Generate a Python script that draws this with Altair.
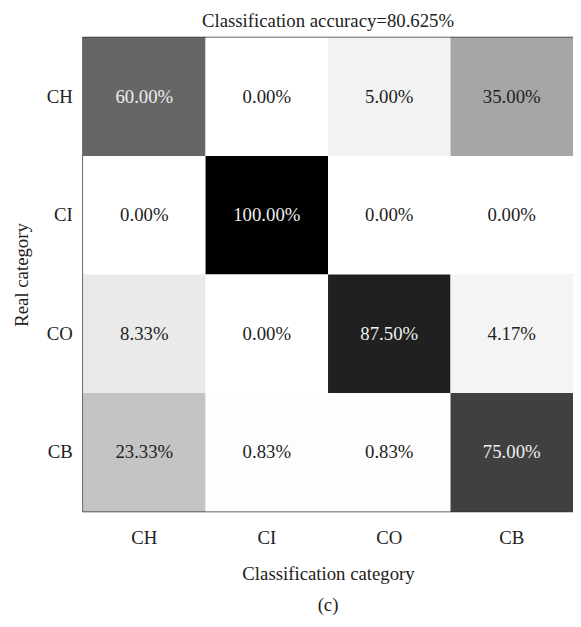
import altair as alt
import pandas as pd

real = ["CH", "CI", "CO", "CB"]
predicted = ["CH", "CI", "CO", "CB"]
values = [
    [60.00, 0.00, 5.00, 35.00],
    [0.00, 100.00, 0.00, 0.00],
    [8.33, 0.00, 87.50, 4.17],
    [23.33, 0.83, 0.83, 75.00],
]
title_text = "Classification accuracy=80.625%"
caption = "(c)"

rows = []
for i, r in enumerate(real):
    for j, p in enumerate(predicted):
        v = values[i][j]
        rows.append({"real": r, "pred": p, "value": v, "label": f"{v:.2f}%"})
df = pd.DataFrame(rows)

W, H = 496, 480
FONT = "Liberation Serif"
FS = 19

base = alt.Chart(df)

rect = base.mark_rect().encode(
    x=alt.X("pred:N", sort=predicted, title="Classification category",
            axis=alt.Axis(labelAngle=0, ticks=False, tickSize=0, domain=False,
                          labelPadding=17, labelFontSize=FS, titleFontSize=FS,
                          labelFont=FONT, titleFont=FONT, labelColor="#222",
                          titleColor="#222", titleFontWeight="normal",
                          titleY=63, titleBaseline="middle")),
    y=alt.Y("real:N", sort=real, title="Real category",
            axis=alt.Axis(ticks=False, tickSize=0, domain=False,
                          labelPadding=11, labelFontSize=FS, titleFontSize=FS,
                          labelFont=FONT, titleFont=FONT, labelColor="#222",
                          titleColor="#222", titleFontWeight="normal",
                          titleX=-62, titleBaseline="middle")),
    color=alt.Color("value:Q", legend=None,
                    scale=alt.Scale(domain=[0, 100], range=["#ffffff", "#000000"],
                                    interpolate="rgb")),
)

text = base.mark_text(font=FONT, fontSize=FS).encode(
    x=alt.X("pred:N", sort=predicted),
    y=alt.Y("real:N", sort=real),
    text="label:N",
    color=alt.condition(alt.datum.value > 50, alt.value("#eeeeee"), alt.value("#222222")),
)

cap = alt.Chart(pd.DataFrame({"t": [caption]})).mark_text(
    font=FONT, fontSize=FS, color="#222", baseline="middle"
).encode(x=alt.value(W / 2), y=alt.value(575), text="t:N")

chart = alt.layer(rect, text, cap).properties(
    width=W, height=H,
    title=alt.TitleParams(title_text, font=FONT, fontSize=FS, fontWeight="normal",
                          color="#222", offset=7),
    autosize=alt.AutoSizeParams(type="none"),
    padding={"left": 76, "top": 26, "right": 0, "bottom": 105},
).configure_view(stroke="#333333", strokeWidth=1.5)

chart.save("out.html", embed_options={"renderer": "svg", "actions": False})
